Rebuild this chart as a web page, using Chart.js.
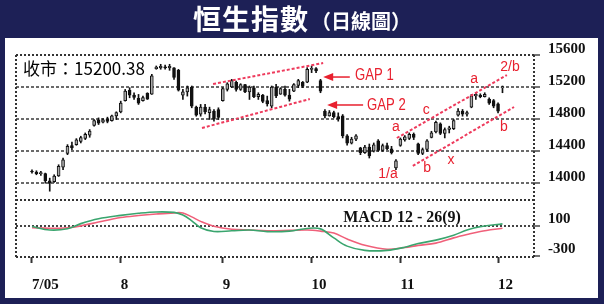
<!DOCTYPE html>
<html><head><meta charset="utf-8">
<script src="https://cdn.jsdelivr.net/npm/chart.js@4"></script>
<style>
html,body{margin:0;padding:0;background:#fff;}
#wrap{position:relative;width:604px;height:304px;overflow:hidden;}
#c{position:absolute;left:0;top:0;}
#title{position:absolute;left:0;top:0;width:604px;height:37px;display:flex;align-items:center;justify-content:center;color:#fff;font-family:"Noto Sans CJK TC","Noto Sans CJK SC",sans-serif;font-weight:bold;line-height:37px;}
</style></head>
<body><div id="wrap"><canvas id="c" width="604" height="304"></canvas>
<div id="title"><span style="font-size:28px;letter-spacing:1px">恒生指數</span><span style="font-size:20px;padding-top:3px;margin-left:2px">（日線圖）</span></div></div>
<script>
// ---- daily candles (trading days from 7/05) ----
const opens  = [14150,14140,14120,14120,14030,14020,14090,14200,14370,14470,14480,14520,14560,14600,14720,14790,14760,14800,14780,14840,
14890,15030,15160,15100,15060,15030,15120,15110,15430,15440,15450,15440,15440,15410,15100,15140,15200,14950,14860,14950,
14880,14900,14920,15030,15170,15200,15260,15170,15230,15140,15190,15080,15100,15030,14960,15200,15110,15170,15100,15150,
15220,15260,15260,15420,15430,15280,14900,14840,14880,14830,14840,14590,14500,14550,14440,14380,14450,14400,14530,14410,
14470,14430,14190,14470,14540,14560,14610,14490,14370,14420,14570,14640,14740,14620,14670,14680,14850,14900,14860,14950,
15090,15100,15080,15050,15030,14990,15190];
const highs  = [14168,14155,14147,14126,14063,14105,14230,14314,14481,14514,14556,14586,14627,14669,14795,14815,14807,14824,14849,14891,
15024,15170,15192,15129,15108,15087,15129,15359,15463,15484,15475,15484,15442,15421,15171,15213,15213,14962,14983,14983,
14949,14920,14941,15192,15254,15296,15275,15242,15233,15213,15213,15129,15108,15087,15213,15233,15192,15213,15171,15242,
15296,15270,15442,15463,15442,15296,14920,14907,14899,14878,14857,14606,14573,14606,14448,14473,14489,14502,14544,14489,
14502,14460,14293,14565,14594,14627,14627,14502,14439,14544,14648,14774,14753,14690,14711,14795,14932,14920,14899,15108,
15129,15116,15129,15066,15045,15004,15213];
const lows   = [14126,14105,14096,14000,13900,14010,14084,14168,14356,14418,14473,14502,14544,14573,14711,14732,14753,14753,14774,14795,
14878,15024,15066,15045,14983,15024,15045,15108,15422,15422,15422,15409,15296,15150,15045,15087,14941,14836,14836,14866,
14795,14774,14795,15024,15150,15192,15150,15158,15129,15045,15066,15045,15004,14962,14941,15066,15108,15087,15024,15141,
15192,15192,15254,15380,15380,15129,14815,14836,14815,14774,14565,14473,14489,14531,14356,14372,14314,14389,14397,14397,
14418,14364,14168,14460,14523,14544,14544,14356,14356,14397,14565,14627,14606,14565,14627,14669,14836,14836,14836,14941,
15045,15066,15075,14983,14941,14878,15129];
const closes = [14140,14120,14130,14030,14000,14090,14210,14290,14460,14440,14540,14570,14610,14650,14780,14750,14790,14770,14840,14880,
15000,15150,15100,15070,15000,15070,15050,15340,15450,15460,15440,15460,15320,15160,15140,15190,14960,14850,14950,14890,
14920,14800,14820,15180,15240,15280,15170,15230,15140,15200,15080,15110,15020,14990,15200,15090,15180,15100,15050,15230,
15280,15210,15420,15430,15400,15150,14840,14880,14830,14800,14590,14500,14550,14590,14380,14450,14340,14480,14410,14470,
14430,14380,14280,14550,14580,14610,14570,14370,14420,14530,14630,14760,14620,14670,14690,14780,14900,14860,14880,15090,
15110,15080,15110,15000,14960,14900,15200.38];

// ---- axis ticks ----
const monthLabels   = ['7/05','8','9','10','11','12'];
const monthStartDay = [0,20,43,63,83,105];
const priceTicks    = [14000,14400,14800,15200,15600];
const macdTicks     = [-300,0,100];

// ---- MACD 12-26(9), read at sample days ----
const macdDay    = [0,4,8,11,15,20,24,28,32,34,36,38,41,45,49,53,58,62,65,68,71,75,80,84,87,91,95,98,101,106];
const macdLine   = [91,45,62,130,195,240,268,286,280,245,168,75,25,34,45,23,30,66,60,-60,-170,-227,-227,-185,-135,-90,-25,45,90,127];
const signalLine = [77,68,75,100,152,212,238,258,273,272,220,160,95,55,45,36,40,45,30,5,-75,-159,-212,-188,-160,-130,-60,-15,25,68];

// ---- trend lines [day, price] ----
const gapUpperLine   = [[40.8,15238],[65.6,15500]];
const gapLowerLine   = [[38.3,14689],[62.6,15051]];
const chanUpperLine  = [[82.2,14564],[107.0,15350]];
const chanLowerLine  = [[85.8,14215],[108.6,14951]];

// ---- annotations [text, day, price] ----
const gapLabels  = [['GAP 1',72.8,15338],['GAP 2',75.5,14964]];
const gapArrows  = [[71.6,65.6,15325],[74.6,66.5,14976]];
const waveLabels = [['2/b',107.7,15450],['a',99.6,15300],['c',88.8,14914],['a',82.0,14701],
                    ['1/a',80.2,14115],['b',89.0,14190],['x',94.4,14290],['b',106.3,14701]];
const closeLabelPos = [-2.0,15425];
const macdLabelPos  = [70.1,207];

const RED = '#e8202e';
const pts = arr => arr.map(p => ({x:p[0], y:p[1]}));
const trendDs = arr => ({type:'line', data:pts(arr), yAxisID:'y', borderColor:'#ee3a5c', borderWidth:2,
  borderDash:[3,2], pointRadius:0, fill:false});

const deco = {
  id:'deco',
  beforeDraw(chart){
    const c = chart.ctx;
    c.save();
    c.fillStyle = '#1d2056'; c.fillRect(0,0,604,304);
    c.fillStyle = '#ffffff'; c.fillRect(5,38,593,260);
    c.restore();
  },
  beforeDatasetsDraw(chart){
    const c = chart.ctx, a = chart.chartArea, ySep = chart.scales.y.bottom;
    c.save();
    c.strokeStyle = '#333'; c.lineWidth = 2; c.setLineDash([2,2]);
    const ln = (x1,y1,x2,y2)=>{c.beginPath();c.moveTo(x1,y1);c.lineTo(x2,y2);c.stroke();};
    ln(a.left,a.top,a.right,a.top);
    ln(a.left,ySep,a.right,ySep);
    ln(a.left,a.bottom,a.right,a.bottom);
    ln(a.left,a.top,a.left,a.bottom);
    ln(a.right,a.top,a.right,a.bottom);
    c.restore();
  },
  afterDatasetsDraw(chart){
    const c = chart.ctx, X = chart.scales.x, Y = chart.scales.y, Y2 = chart.scales.y2;
    c.save();
    c.textBaseline = 'middle';
    // close label
    c.fillStyle = '#000'; c.textAlign = 'left';
    c.font = '17px "Noto Sans CJK TC","Noto Sans CJK SC",sans-serif';
    c.fillText('收市：' + closes[closes.length-1].toFixed(2), X.getPixelForValue(closeLabelPos[0]), Y.getPixelForValue(closeLabelPos[1]));
    // MACD label
    c.font = 'bold 16px "Liberation Serif",serif';
    c.fillStyle = '#111';
    c.fillText('MACD 12 - 26(9)', X.getPixelForValue(macdLabelPos[0]), Y2.getPixelForValue(macdLabelPos[1]));
    // GAP labels
    c.fillStyle = RED;
    c.font = '16px "Liberation Sans",Arial,sans-serif';
    gapLabels.forEach(g=>{
      c.save();
      c.translate(X.getPixelForValue(g[1]), Y.getPixelForValue(g[2]));
      c.scale(0.82,1);
      c.fillText(g[0],0,0);
      c.restore();
    });
    // arrows
    c.strokeStyle = RED; c.lineWidth = 1.5;
    gapArrows.forEach(g=>{
      const x1 = X.getPixelForValue(g[0]), x2 = X.getPixelForValue(g[1]), y = Y.getPixelForValue(g[2]);
      c.beginPath(); c.moveTo(x1,y); c.lineTo(x2+8,y); c.stroke();
      c.beginPath(); c.moveTo(x2,y); c.lineTo(x2+10,y-4); c.lineTo(x2+10,y+4); c.closePath(); c.fill();
    });
    // wave labels
    c.textAlign = 'center';
    c.font = '14px "Liberation Sans",Arial,sans-serif';
    waveLabels.forEach(w=>{
      c.fillText(w[0], X.getPixelForValue(w[1]), Y.getPixelForValue(w[2]));
    });
    c.restore();
  }
};

const tickFont = {family:'Liberation Serif', size:15, weight:'bold'};

new Chart(document.getElementById('c'), {
  type:'bar',
  data:{datasets:[
    {type:'line', label:'MACD', data:macdDay.map((d,k)=>({x:d,y:macdLine[k]})), yAxisID:'y2',
      borderColor:'#3aa56e', borderWidth:1.6, pointRadius:0, tension:0.35},
    {type:'line', label:'Signal', data:macdDay.map((d,k)=>({x:d,y:signalLine[k]})), yAxisID:'y2',
      borderColor:'#f0607a', borderWidth:1.6, pointRadius:0, tension:0.35},
    trendDs(gapUpperLine), trendDs(gapLowerLine), trendDs(chanUpperLine), trendDs(chanLowerLine),
    {label:'body', data:opens.map((o,i)=>({x:i,y:[o,closes[i]]})), yAxisID:'y',
      backgroundColor:c=> (closes[c.dataIndex] >= opens[c.dataIndex]) ? '#a8a8a8' : '#111111',
      borderColor:'#111', borderWidth:1, borderSkipped:false, barThickness:3, minBarLength:1, grouped:false},
    {label:'wick', data:highs.map((h,i)=>({x:i,y:[lows[i],h]})), yAxisID:'y',
      backgroundColor:'#111', barThickness:1, grouped:false}
  ]},
  options:{
    responsive:false, animation:false, devicePixelRatio:1,
    layout:{padding:{left:16, top:55, right:0, bottom:0}},
    plugins:{legend:{display:false}, tooltip:{enabled:false}},
    scales:{
      x:{type:'linear', min:-3.6, max:113.1, offset:false,
        afterBuildTicks:s=>{ s.ticks = monthStartDay.map(v=>({value:v})); },
        afterFit:s=>{ s.height = 47; },
        grid:{offset:false, drawOnChartArea:false, drawTicks:true, tickLength:6, tickColor:'#333', tickWidth:2},
        border:{display:false},
        ticks:{callback:(v,i)=>monthLabels[i], align:'start', padding:13, color:'#111', font:tickFont, maxRotation:0, autoSkip:false}
      },
      y:{type:'linear', position:'right', stack:'px', stackWeight:145, min:13790, max:15600,
        afterBuildTicks:s=>{ s.ticks = priceTicks.map(v=>({value:v})); },
        afterFit:s=>{ s.width = 70; },
        grid:{color:c=> (c.tick && c.tick.value===15600) ? 'rgba(0,0,0,0)' : '#6a6a6a', lineWidth:2,
          tickLength:6, tickColor:'#444', tickWidth:1.5},
        border:{display:false, dash:[3,2]},
        ticks:{callback:v=>String(v), labelOffset:-6, padding:8, color:'#111', font:tickFont}
      },
      y2:{type:'linear', position:'right', stack:'px', stackWeight:57, min:-315, max:445,
        afterBuildTicks:s=>{ s.ticks = macdTicks.map(v=>({value:v})); },
        afterFit:s=>{ s.width = 70; },
        grid:{color:c=> (c.tick && c.tick.value===-300) ? 'rgba(0,0,0,0)' : '#444', lineWidth:2,
          tickLength:6, tickColor:c=> (c.tick && c.tick.value===0) ? 'rgba(0,0,0,0)' : '#444', tickWidth:1.5},
        border:{display:false, dash:[2,2]},
        ticks:{callback:v=> v===0 ? '' : String(v), labelOffset:-7, padding:8, color:'#111', font:tickFont}
      }
    }
  },
  plugins:[deco]
});
</script>
</body></html>
